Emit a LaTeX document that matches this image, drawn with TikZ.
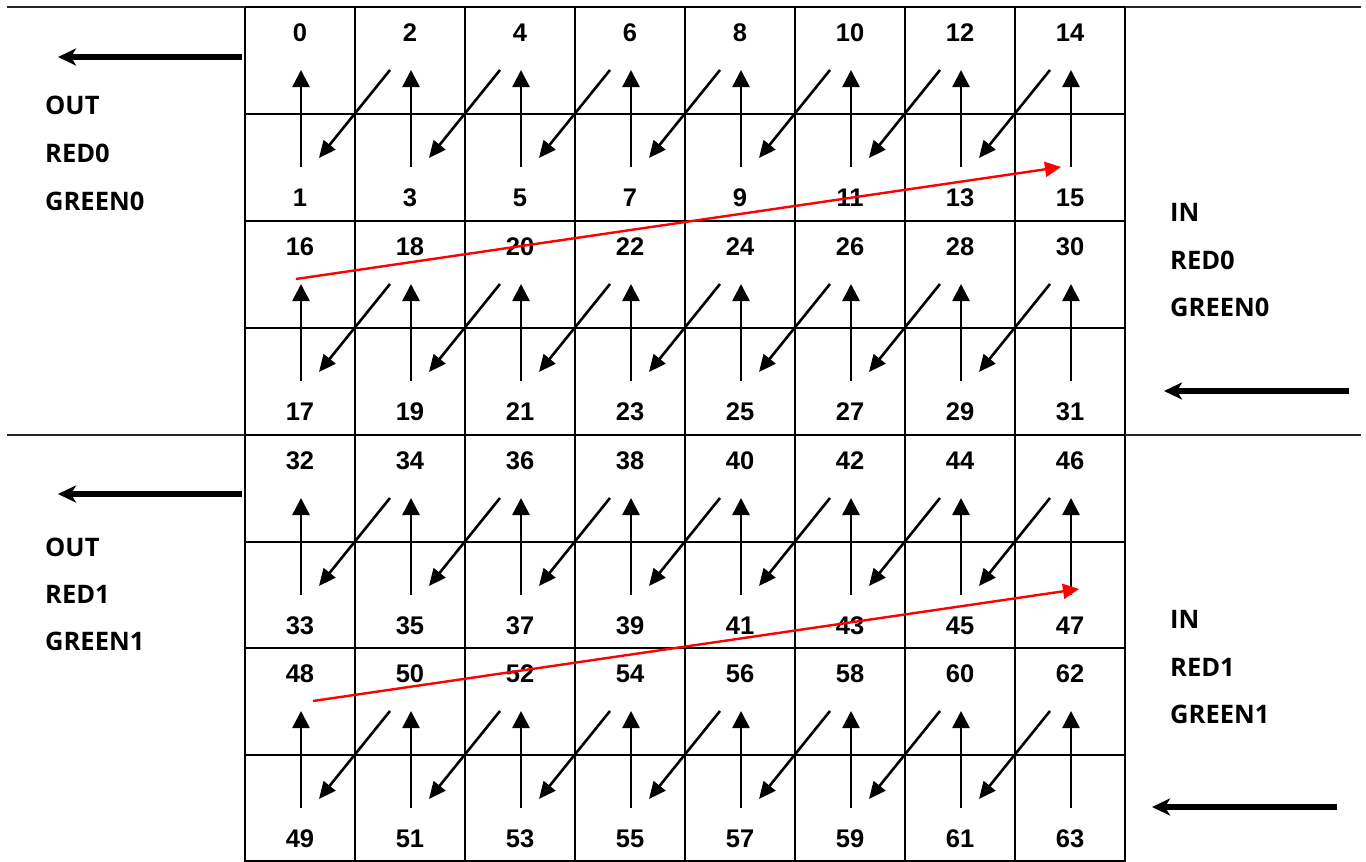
\documentclass[tikz,border=0pt]{standalone}
\usepackage{fontspec}
\setmainfont{Liberation Sans}
\newfontfamily\lblfont{Open Sans}
\usetikzlibrary{arrows.meta}
\begin{document}
\begin{tikzpicture}[x=1pt,y=-1pt,
  gridline/.style={line width=2.2pt},
  sepline/.style={line width=1.5pt, black!85},
  num/.style={font=\fontsize{25.5}{25.5}\selectfont\bfseries, inner sep=0pt, anchor=center},
  lbl/.style={font=\lblfont\fontsize{25.5}{25.5}\selectfont\bfseries, inner sep=0pt, anchor=west},
  uparrow/.style={line width=2.6pt, -{Triangle[length=17pt,width=17pt]}},
  diagarrow/.style={line width=2.6pt, -{Triangle[length=17pt,width=15pt]}},
  redarrow/.style={line width=2.4pt, red, -{Triangle[length=16pt,width=15pt]}},
  bigarrow/.style={line width=5.5pt, -{Stealth[length=18pt,width=17pt,inset=5pt]}},
]
\useasboundingbox (0,0) rectangle (1366,862);
\fill[white] (0,0) rectangle (1366,862);

% grid
\foreach \yy in {7,114,221,328,435,542,648,755,861}
  \draw[gridline] (244,\yy) -- (1126,\yy);
\foreach \xx in {245,355,465,575,685,795,905,1015,1125}
  \draw[gridline] (\xx,6) -- (\xx,862);

% separator lines outside the grid
\coordinate (sl1a) at (7,7);    \coordinate (sl1b) at (245,7);
\coordinate (sr1a) at (1125,7); \coordinate (sr1b) at (1361,7);
\coordinate (sl2a) at (7,435);  \coordinate (sl2b) at (245,435);
\coordinate (sr2a) at (1125,435); \coordinate (sr2b) at (1361,435);
\draw[sepline] (sl1a) -- (sl1b);
\draw[sepline] (sr1a) -- (sr1b);
\draw[sepline] (sl2a) -- (sl2b);
\draw[sepline] (sr2a) -- (sr2b);

% numbers and arrows
\foreach \T [count=\p from 0] in {7,221,435,648} {
  \foreach \k in {0,...,7} {
    \pgfmathtruncatemacro\a{16*\p+2*\k}
    \pgfmathtruncatemacro\b{16*\p+2*\k+1}
    \pgfmathsetmacro\cx{300+110*\k}
    \node[num] (n\a) at (\cx,{\T+26}) {\a};
    \node[num] (n\b) at (\cx,{\T+191}) {\b};
    \coordinate (vb-\p-\k) at ({\cx+1},{\T+160});
    \coordinate (vt-\p-\k) at ({\cx+1},{\T+63});
    \draw[uparrow] (vb-\p-\k) -- (vt-\p-\k);
  }
  \foreach \k in {0,...,6} {
    \pgfmathsetmacro\cx{300+110*\k}
    \coordinate (ds-\p-\k) at ({\cx+110-20},{\T+63});
    \coordinate (de-\p-\k) at ({\cx+19},{\T+151});
    \draw[diagarrow] (ds-\p-\k) -- (de-\p-\k);
  }
}

% red arrows
\coordinate (r1s) at (296,279);  \coordinate (r1e) at (1061,167);
\coordinate (r2s) at (313,701);  \coordinate (r2e) at (1079,589);
\draw[redarrow] (r1s) -- (r1e);
\draw[redarrow] (r2s) -- (r2e);

% thick arrows
\coordinate (a1s) at (242,57);   \coordinate (a1e) at (58,57);
\coordinate (a2s) at (1349,391); \coordinate (a2e) at (1164,391);
\coordinate (a3s) at (242,494);  \coordinate (a3e) at (58,494);
\coordinate (a4s) at (1337,807); \coordinate (a4e) at (1152,807);
\draw[bigarrow] (a1s) -- (a1e);
\draw[bigarrow] (a2s) -- (a2e);
\draw[bigarrow] (a3s) -- (a3e);
\draw[bigarrow] (a4s) -- (a4e);

% labels
\node[lbl] (lout0) at (45,105) {OUT};
\node[lbl] (lred0) at (45,153) {RED0};
\node[lbl] (lgreen0) at (45,201) {GREEN0};
\node[lbl] (lout1) at (45,547) {OUT};
\node[lbl] (lred1) at (45,594) {RED1};
\node[lbl] (lgreen1) at (45,641) {GREEN1};
\node[lbl] (rin0) at (1170,212) {IN};
\node[lbl] (rred0) at (1170,260) {RED0};
\node[lbl] (rgreen0) at (1170,307) {GREEN0};
\node[lbl] (rin1) at (1170,619) {IN};
\node[lbl] (rred1) at (1170,667) {RED1};
\node[lbl] (rgreen1) at (1170,714) {GREEN1};
\end{tikzpicture}
\end{document}
